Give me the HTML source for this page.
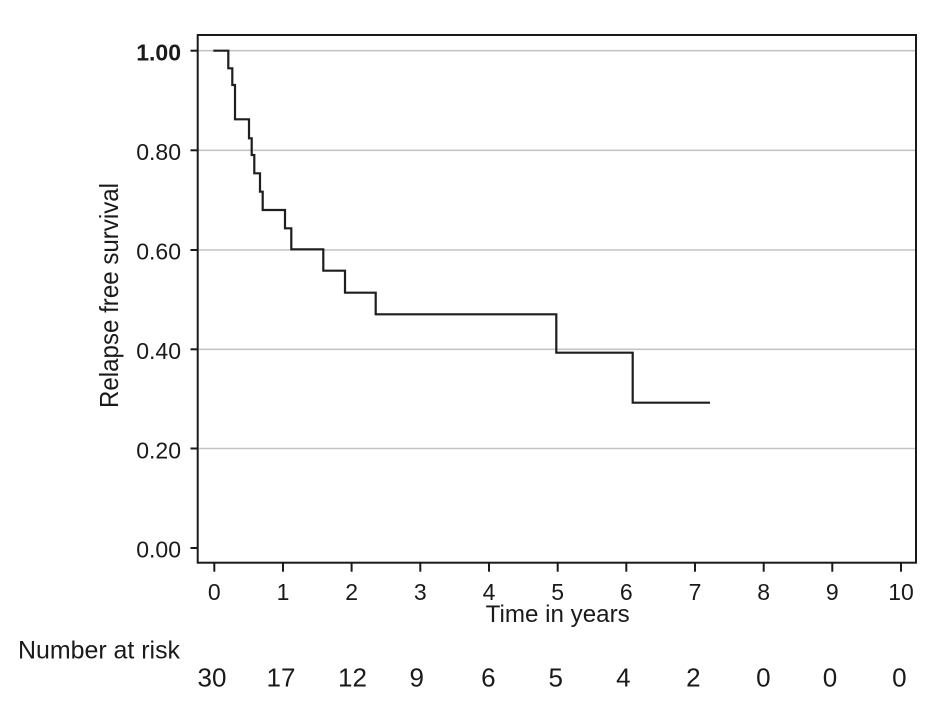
<!DOCTYPE html>
<html>
<head>
<meta charset="utf-8">
<style>
html,body{margin:0;padding:0;background:#fff;}
svg{display:block;}
text{font-family:"Liberation Sans",Arial,sans-serif;fill:#1a1a1a;}
</style>
</head>
<body>
<svg width="945" height="712" viewBox="0 0 945 712" xmlns="http://www.w3.org/2000/svg">
<rect x="0" y="0" width="945" height="712" fill="#fff"/>
<!-- gridlines -->
<g stroke="#c4c4c4" stroke-width="1.6">
<line x1="198" y1="50.7" x2="916" y2="50.7"/>
<line x1="198" y1="150.3" x2="916" y2="150.3"/>
<line x1="198" y1="250" x2="916" y2="250"/>
<line x1="198" y1="349.3" x2="916" y2="349.3"/>
<line x1="198" y1="448.5" x2="916" y2="448.5"/>
</g>
<!-- frame -->
<rect x="197.7" y="35" width="718.3" height="527.7" fill="none" stroke="#1a1a1a" stroke-width="2"/>
<!-- y ticks -->
<g stroke="#1a1a1a" stroke-width="2">
<line x1="190.5" y1="50.7" x2="197.7" y2="50.7"/>
<line x1="190.5" y1="150.3" x2="197.7" y2="150.3"/>
<line x1="190.5" y1="250" x2="197.7" y2="250"/>
<line x1="190.5" y1="349.3" x2="197.7" y2="349.3"/>
<line x1="190.5" y1="448.5" x2="197.7" y2="448.5"/>
<line x1="190.5" y1="548" x2="197.7" y2="548"/>
</g>
<!-- x ticks -->
<g stroke="#1a1a1a" stroke-width="2">
<line x1="214.3" y1="562.7" x2="214.3" y2="571.7"/>
<line x1="283" y1="562.7" x2="283" y2="571.7"/>
<line x1="351.6" y1="562.7" x2="351.6" y2="571.7"/>
<line x1="420.3" y1="562.7" x2="420.3" y2="571.7"/>
<line x1="489" y1="562.7" x2="489" y2="571.7"/>
<line x1="557.7" y1="562.7" x2="557.7" y2="571.7"/>
<line x1="626.3" y1="562.7" x2="626.3" y2="571.7"/>
<line x1="695" y1="562.7" x2="695" y2="571.7"/>
<line x1="763.7" y1="562.7" x2="763.7" y2="571.7"/>
<line x1="832.3" y1="562.7" x2="832.3" y2="571.7"/>
<line x1="901" y1="562.7" x2="901" y2="571.7"/>
</g>
<!-- y tick labels -->
<g font-size="23" text-anchor="end">
<text x="181" y="60.5" font-weight="bold">1.00</text>
<text x="181" y="160">0.80</text>
<text x="181" y="259.5">0.60</text>
<text x="181" y="359">0.40</text>
<text x="181" y="458.3">0.20</text>
<text x="181" y="557.7">0.00</text>
</g>
<!-- x tick labels -->
<g font-size="23" text-anchor="middle">
<text x="214.3" y="600">0</text>
<text x="283" y="600">1</text>
<text x="351.6" y="600">2</text>
<text x="420.3" y="600">3</text>
<text x="489" y="600">4</text>
<text x="557.7" y="600">5</text>
<text x="626.3" y="600">6</text>
<text x="695" y="600">7</text>
<text x="763.7" y="600">8</text>
<text x="832.3" y="600">9</text>
<text x="901" y="600">10</text>
</g>
<text x="485.7" y="622" font-size="24" textLength="144" lengthAdjust="spacingAndGlyphs">Time in years</text>
<text transform="translate(118,408) rotate(-90)" x="0" y="0" font-size="26" textLength="225" lengthAdjust="spacingAndGlyphs">Relapse free survival</text>
<!-- KM curve -->
<path d="M213.3 50.7 H228.3 V68.3 H232.3 V85 H235 V119.3 H249 V138.3 H251.7 V155 H254.3 V173.3 H260 V191.7 H262.7 V210 H285 V228.3 H291.3 V249.3 H323.3 V270.7 H345 V292.7 H375.7 V314.3 H556.3 V352.7 H632.7 V402.7 H710" fill="none" stroke="#1e1e1e" stroke-width="2.2" stroke-linejoin="miter"/>
<!-- number at risk -->
<text x="18" y="658.3" font-size="25" textLength="162" lengthAdjust="spacingAndGlyphs">Number at risk</text>
<g font-size="26" text-anchor="middle">
<text x="212" y="686.5">30</text>
<text x="281" y="686.5">17</text>
<text x="352.5" y="686.5">12</text>
<text x="416.7" y="686.5">9</text>
<text x="488.3" y="686.5">6</text>
<text x="555.7" y="686.5">5</text>
<text x="623.3" y="686.5">4</text>
<text x="693.3" y="686.5">2</text>
<text x="763.3" y="686.5">0</text>
<text x="830" y="686.5">0</text>
<text x="899.3" y="686.5">0</text>
</g>
</svg>
</body>
</html>
